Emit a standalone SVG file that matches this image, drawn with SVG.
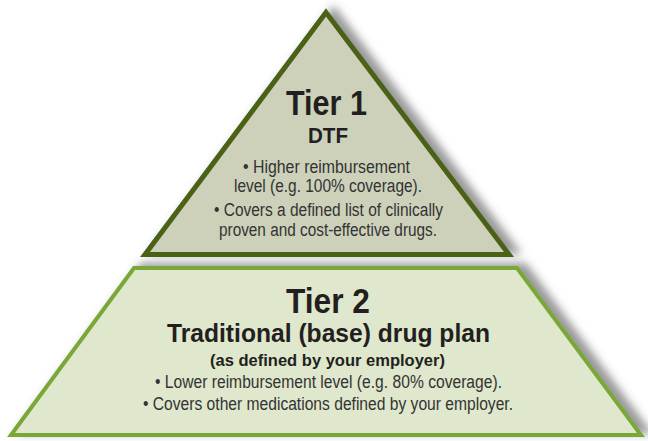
<svg xmlns="http://www.w3.org/2000/svg" width="648" height="441" viewBox="0 0 648 441">
  <style>
    .title { font-family: "Liberation Sans", Arial, sans-serif; font-weight: bold; fill: #231f20; text-anchor: middle; }
    .body { font-family: "Liberation Sans", Arial, sans-serif; fill: #333333; text-anchor: middle; font-size: 18px; }
    .tier1 { fill: #cdd1ba; stroke: #4b6219; stroke-width: 5; stroke-linejoin: miter; }
    .tier2 { fill: #dfe7cc; stroke: #79a838; stroke-width: 4; stroke-linejoin: miter; }
  </style>
  <defs>
    <filter id="shadow" x="-10%" y="-10%" width="125%" height="125%">
      <feGaussianBlur in="SourceAlpha" stdDeviation="4" result="blur"/>
      <feOffset in="blur" dx="8" dy="-3" result="off"/>
      <feFlood flood-color="#555555" flood-opacity="0.6"/>
      <feComposite in2="off" operator="in" result="sh"/>
      <feMerge>
        <feMergeNode in="sh"/>
        <feMergeNode in="SourceGraphic"/>
      </feMerge>
    </filter>
  </defs>
  <rect width="648" height="441" fill="#ffffff"/>
  <g id="connectors"></g>
  <g id="tier2">
    <polygon class="tier2" filter="url(#shadow)" points="134,268 517,268 641,435 11,435"/>
    <text class="title" x="328" y="313" font-size="35" textLength="84" lengthAdjust="spacingAndGlyphs">Tier 2</text>
    <text class="title" x="328.5" y="342" font-size="26" textLength="323" lengthAdjust="spacingAndGlyphs">Traditional (base) drug plan</text>
    <text class="title" x="327.5" y="366" font-size="17" textLength="235" lengthAdjust="spacingAndGlyphs">(as defined by your employer)</text>
    <text class="body" x="328.5" y="388" textLength="347" lengthAdjust="spacingAndGlyphs">• Lower reimbursement level (e.g. 80% coverage).</text>
    <text class="body" x="328" y="410" textLength="370" lengthAdjust="spacingAndGlyphs">• Covers other medications defined by your employer.</text>
  </g>
  <g id="tier1">
    <polygon class="tier1" filter="url(#shadow)" points="326,12.5 509,254.5 145,254.5"/>
    <text class="title" x="326.5" y="115" font-size="35" textLength="81" lengthAdjust="spacingAndGlyphs">Tier 1</text>
    <text class="title" x="328" y="143" font-size="22" textLength="40" lengthAdjust="spacingAndGlyphs">DTF</text>
    <text class="body" x="326.5" y="172.5" textLength="167" lengthAdjust="spacingAndGlyphs">• Higher reimbursement</text>
    <text class="body" x="328" y="192" textLength="188" lengthAdjust="spacingAndGlyphs">level (e.g. 100% coverage).</text>
    <text class="body" x="328.5" y="216" textLength="229" lengthAdjust="spacingAndGlyphs">• Covers a defined list of clinically</text>
    <text class="body" x="328" y="236" textLength="218" lengthAdjust="spacingAndGlyphs">proven and cost-effective drugs.</text>
  </g>
</svg>
